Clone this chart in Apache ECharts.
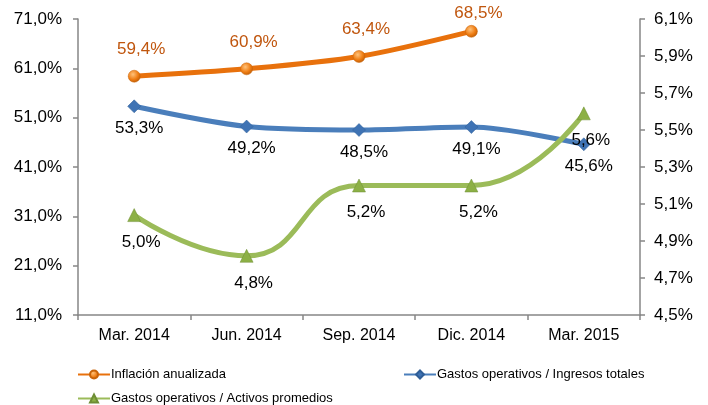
<!DOCTYPE html>
<html>
<head>
<meta charset="utf-8">
<script src="https://cdn.jsdelivr.net/npm/echarts@6/dist/echarts.min.js"></script>
<style>
  html, body { margin: 0; padding: 0; background: #fff; }
  #chart { width: 708px; height: 405px; }
</style>
</head>
<body>
<div id="chart"></div>
<script>
const categories = ['Mar. 2014', 'Jun. 2014', 'Sep. 2014', 'Dic. 2014', 'Mar. 2015'];
const inflacion = [59.4, 60.9, 63.4, 68.5, null];
const gastosIngresos = [53.3, 49.2, 48.5, 49.1, 45.6];
const gastosActivos = [5.04, 4.82, 5.2, 5.2, 5.59];
const seriesNames = ['Inflación anualizada', 'Gastos operativos / Ingresos totales', 'Gastos operativos / Activos promedios'];

const FONT = '"Liberation Sans", Arial, sans-serif';
const axisColor = '#868686';
const pct = v => v.toFixed(1).replace('.', ',') + '%';

const chart = echarts.init(document.getElementById('chart'));

const legendText = { fontFamily: FONT, fontSize: 13, color: '#000', padding: [0, 0, 0, -4] };

// the last orange label sits closer to its point, as in the original
const inflacionData = inflacion.map((v, i) => i === 3 ? { value: v, label: { distance: 3 } } : v);

const option = {
    animation: false,
    grid: { left: 78, right: 68, top: 19, bottom: 90 },
    legend: [
        { data: [seriesNames[0]], left: 72, top: 363, itemWidth: 32, itemHeight: 10, textStyle: legendText },
        { data: [seriesNames[1]], left: 398, top: 363, itemWidth: 32, itemHeight: 10, textStyle: legendText },
        { data: [seriesNames[2]], left: 72, top: 387, itemWidth: 32, itemHeight: 10, textStyle: legendText }
    ],
    xAxis: {
        type: 'category',
        data: categories,
        boundaryGap: true,
        axisLine: { lineStyle: { color: axisColor, width: 1.5 } },
        axisTick: { show: true, length: 5, lineStyle: { color: axisColor, width: 1.5 } },
        axisLabel: { fontFamily: FONT, fontSize: 16, color: '#000', margin: 13 },
        splitLine: { show: false }
    },
    yAxis: [
        {
            type: 'value',
            min: 11, max: 71, interval: 10,
            axisLine: { show: true, lineStyle: { color: axisColor, width: 1.5 } },
            axisTick: { show: true, length: 5, lineStyle: { color: axisColor, width: 1.5 } },
            axisLabel: { fontFamily: FONT, fontSize: 17, color: '#000', margin: 16, formatter: v => pct(v) },
            splitLine: { show: false }
        },
        {
            type: 'value',
            min: 4.5, max: 6.1, interval: 0.2,
            position: 'right',
            axisLine: { show: true, lineStyle: { color: axisColor, width: 1.5 } },
            axisTick: { show: true, length: 5, lineStyle: { color: axisColor, width: 1.5 } },
            axisLabel: { fontFamily: FONT, fontSize: 17, color: '#000', margin: 14, formatter: v => pct(v) },
            splitLine: { show: false }
        }
    ],
    series: [
        {
            name: seriesNames[0],
            type: 'line',
            yAxisIndex: 0,
            data: inflacionData,
            smooth: 0.3,
            symbol: 'circle',
            symbolSize: 12,
            lineStyle: { color: '#E8710C', width: 5 },
            itemStyle: {
                color: {
                    type: 'radial', x: 0.4, y: 0.35, r: 0.7,
                    colorStops: [{ offset: 0, color: '#FFC27A' }, { offset: 0.6, color: '#EE7C12' }, { offset: 1, color: '#B85A06' }]
                },
                borderColor: '#C8640A',
                borderWidth: 0.5
            },
            label: {
                show: true, position: 'top', distance: 12, offset: [7, 0],
                fontFamily: FONT, fontSize: 17, color: '#C0560E',
                formatter: p => pct(p.value)
            }
        },
        {
            name: seriesNames[1],
            type: 'line',
            yAxisIndex: 0,
            data: gastosIngresos,
            smooth: 0.3,
            symbol: 'diamond',
            symbolSize: 13,
            lineStyle: { color: '#4A7EBB', width: 5 },
            itemStyle: { color: '#3F73B4', borderColor: '#2F5E97', borderWidth: 0.5 },
            label: {
                show: true, position: 'bottom', distance: 7, offset: [5, 0],
                fontFamily: FONT, fontSize: 17, color: '#000',
                formatter: p => pct(p.value)
            }
        },
        {
            name: seriesNames[2],
            type: 'line',
            yAxisIndex: 1,
            data: gastosActivos,
            smooth: 0.5,
            symbol: 'triangle',
            symbolSize: 13,
            lineStyle: { color: '#9BBB59', width: 5 },
            itemStyle: { color: '#8CB045', borderColor: '#6E8E35', borderWidth: 0.5 },
            label: {
                show: true, position: 'bottom', distance: 12, offset: [7, 0],
                fontFamily: FONT, fontSize: 17, color: '#000',
                formatter: p => pct(p.value)
            }
        }
    ]
};

chart.setOption(option);
</script>
</body>
</html>
